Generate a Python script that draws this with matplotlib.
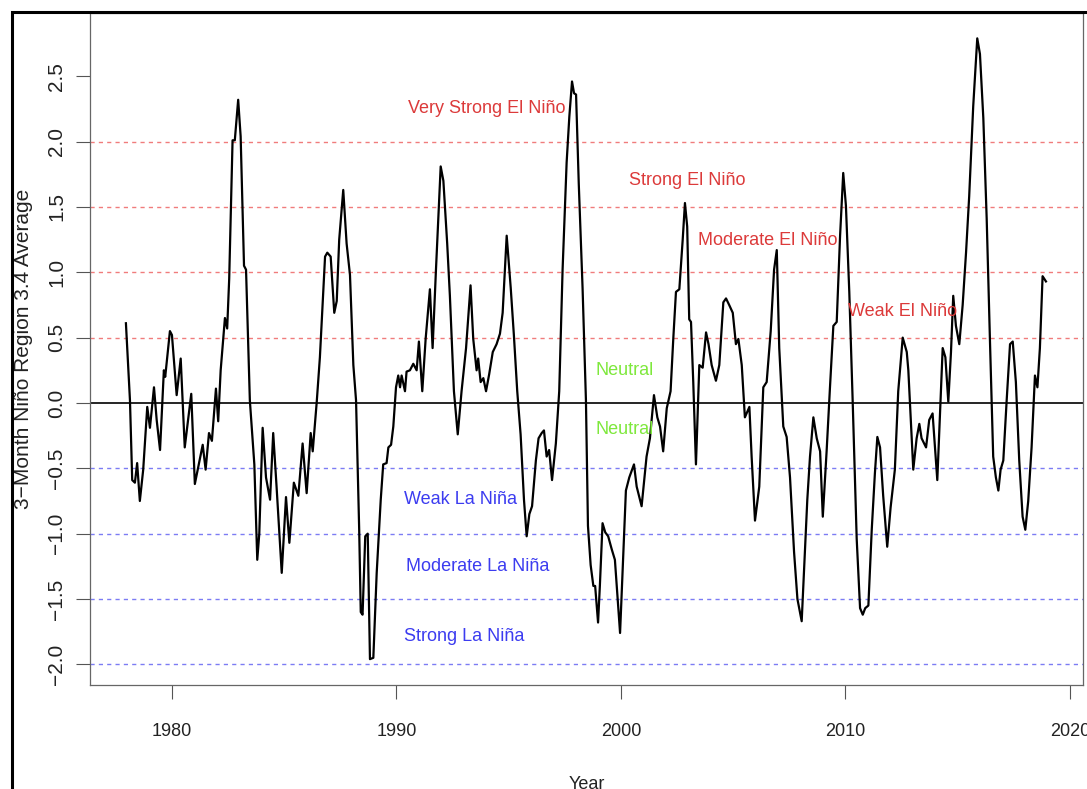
import matplotlib
matplotlib.use("Agg")
import matplotlib.pyplot as plt
from matplotlib.patches import Rectangle

# ---- data ----
years = [
    1977.95, 1978.13, 1978.23, 1978.35, 1978.45, 1978.57, 1978.72, 1978.90, 1979.02, 1979.20,
    1979.32, 1979.47, 1979.64, 1979.70, 1979.91, 1980.00, 1980.21, 1980.39, 1980.57, 1980.86,
    1981.02, 1981.25, 1981.37, 1981.50, 1981.65, 1981.78, 1981.96, 1982.06, 1982.17, 1982.36,
    1982.46, 1982.55, 1982.70, 1982.80, 1982.95, 1983.06, 1983.21, 1983.30, 1983.47, 1983.67,
    1983.80, 1983.89, 1984.04, 1984.19, 1984.37, 1984.51, 1984.66, 1984.89, 1985.08, 1985.23,
    1985.43, 1985.63, 1985.82, 1986.00, 1986.18, 1986.27, 1986.45, 1986.59, 1986.82, 1986.92,
    1987.07, 1987.23, 1987.34, 1987.45, 1987.63, 1987.78, 1987.93, 1988.08, 1988.20, 1988.34,
    1988.41, 1988.49, 1988.61, 1988.72, 1988.82, 1988.97, 1989.12, 1989.30, 1989.41, 1989.56,
    1989.64, 1989.76, 1989.86, 1989.98, 1990.08, 1990.16, 1990.23, 1990.38, 1990.45, 1990.60,
    1990.75, 1990.90, 1991.00, 1991.15, 1991.30, 1991.49, 1991.61, 1991.76, 1991.97, 1992.09,
    1992.26, 1992.38, 1992.56, 1992.73, 1992.90, 1993.10, 1993.30, 1993.42, 1993.57, 1993.64,
    1993.75, 1993.87, 1993.99, 1994.13, 1994.29, 1994.46, 1994.61, 1994.73, 1994.91, 1995.09,
    1995.23, 1995.38, 1995.53, 1995.68, 1995.80, 1995.92, 1996.04, 1996.21, 1996.33, 1996.47,
    1996.57, 1996.69, 1996.80, 1996.93, 1997.10, 1997.25, 1997.40, 1997.58, 1997.70, 1997.82,
    1997.91, 1998.00, 1998.12, 1998.29, 1998.44, 1998.53, 1998.65, 1998.77, 1998.85, 1998.98,
    1999.06, 1999.18, 1999.30, 1999.43, 1999.59, 1999.73, 1999.96, 2000.10, 2000.22, 2000.37,
    2000.58, 2000.70, 2000.92, 2001.14, 2001.29, 2001.47, 2001.62, 2001.74, 2001.88, 2002.04,
    2002.21, 2002.33, 2002.45, 2002.60, 2002.75, 2002.85, 2002.95, 2003.04, 2003.12, 2003.22,
    2003.34, 2003.49, 2003.64, 2003.79, 2003.90, 2004.04, 2004.23, 2004.38, 2004.56, 2004.68,
    2004.82, 2004.98, 2005.12, 2005.23, 2005.38, 2005.52, 2005.72, 2005.82, 2005.97, 2006.16,
    2006.34, 2006.49, 2006.67, 2006.82, 2006.94, 2007.05, 2007.23, 2007.38, 2007.53, 2007.71,
    2007.86, 2008.05, 2008.15, 2008.30, 2008.42, 2008.57, 2008.72, 2008.87, 2008.99, 2009.16,
    2009.31, 2009.46, 2009.61, 2009.76, 2009.90, 2010.02, 2010.17, 2010.32, 2010.50, 2010.65,
    2010.77, 2010.88, 2011.02, 2011.17, 2011.31, 2011.42, 2011.54, 2011.68, 2011.86, 2012.01,
    2012.20, 2012.35, 2012.55, 2012.73, 2012.80, 2013.02, 2013.17, 2013.29, 2013.39, 2013.59,
    2013.73, 2013.88, 2014.09, 2014.33, 2014.45, 2014.58, 2014.70, 2014.80, 2014.92, 2015.07,
    2015.22, 2015.37, 2015.51, 2015.69, 2015.87, 2015.99, 2016.14, 2016.29, 2016.44, 2016.58,
    2016.70, 2016.81, 2016.91, 2017.03, 2017.18, 2017.33, 2017.45, 2017.59, 2017.74, 2017.89,
    2018.01, 2018.14, 2018.29, 2018.44, 2018.55, 2018.66, 2018.78, 2018.93,
]
nino34 = [
    0.61, 0.02, -0.59, -0.61, -0.46, -0.75, -0.51, -0.03, -0.19, 0.12,
    -0.13, -0.36, 0.25, 0.20, 0.55, 0.52, 0.06, 0.34, -0.34, 0.07,
    -0.62, -0.42, -0.32, -0.51, -0.23, -0.29, 0.11, -0.14, 0.25, 0.65,
    0.57, 0.95, 2.01, 2.01, 2.32, 2.04, 1.05, 1.02, 0.02, -0.47,
    -1.20, -1.00, -0.19, -0.57, -0.74, -0.23, -0.64, -1.30, -0.72, -1.07,
    -0.61, -0.71, -0.31, -0.69, -0.23, -0.37, 0.01, 0.35, 1.12, 1.15,
    1.12, 0.69, 0.78, 1.25, 1.63, 1.22, 0.98, 0.29, 0.02, -0.97,
    -1.60, -1.62, -1.02, -1.00, -1.96, -1.95, -1.30, -0.74, -0.47, -0.46,
    -0.34, -0.32, -0.18, 0.12, 0.21, 0.12, 0.21, 0.09, 0.24, 0.25,
    0.30, 0.25, 0.47, 0.09, 0.49, 0.87, 0.42, 1.02, 1.81, 1.70,
    1.22, 0.82, 0.09, -0.24, 0.09, 0.42, 0.90, 0.49, 0.25, 0.34,
    0.16, 0.19, 0.09, 0.22, 0.39, 0.45, 0.53, 0.69, 1.28, 0.88,
    0.52, 0.09, -0.24, -0.74, -1.02, -0.85, -0.79, -0.44, -0.27, -0.23,
    -0.21, -0.41, -0.36, -0.59, -0.31, 0.09, 1.02, 1.84, 2.19, 2.46,
    2.37, 2.36, 1.68, 0.88, 0.02, -0.94, -1.24, -1.40, -1.40, -1.68,
    -1.40, -0.92, -0.99, -1.02, -1.12, -1.20, -1.76, -1.17, -0.67, -0.57,
    -0.47, -0.64, -0.79, -0.41, -0.27, 0.06, -0.11, -0.18, -0.37, -0.04,
    0.09, 0.49, 0.85, 0.87, 1.25, 1.53, 1.35, 0.64, 0.62, 0.16,
    -0.47, 0.29, 0.27, 0.54, 0.45, 0.29, 0.17, 0.29, 0.77, 0.80,
    0.75, 0.69, 0.45, 0.49, 0.29, -0.11, -0.03, -0.41, -0.90, -0.64,
    0.12, 0.16, 0.55, 1.02, 1.17, 0.42, -0.18, -0.26, -0.57, -1.14,
    -1.50, -1.67, -1.30, -0.74, -0.41, -0.11, -0.27, -0.37, -0.87, -0.37,
    0.12, 0.59, 0.62, 1.28, 1.76, 1.51, 0.85, 0.02, -1.04, -1.57,
    -1.62, -1.57, -1.55, -0.97, -0.54, -0.26, -0.34, -0.71, -1.10, -0.80,
    -0.51, 0.09, 0.50, 0.39, 0.25, -0.51, -0.27, -0.16, -0.27, -0.34,
    -0.13, -0.08, -0.59, 0.42, 0.35, 0.01, 0.39, 0.82, 0.59, 0.45,
    0.75, 1.15, 1.58, 2.27, 2.79, 2.67, 2.18, 1.41, 0.45, -0.41,
    -0.57, -0.67, -0.51, -0.44, 0.02, 0.45, 0.47, 0.16, -0.44, -0.87,
    -0.97, -0.75, -0.34, 0.21, 0.12, 0.42, 0.97, 0.93,
]

el_nino_levels = [0.5, 1.0, 1.5, 2.0]
la_nina_levels = [-0.5, -1.0, -1.5, -2.0]

label_texts = ["Very Strong El Niño", "Strong El Niño", "Moderate El Niño", "Weak El Niño",
               "Neutral", "Neutral", "Weak La Niña", "Moderate La Niña", "Strong La Niña"]
label_x = [1994.0, 2002.95, 2006.55, 2012.55, 2000.15, 2000.15, 1992.85, 1993.6, 1993.0]
label_y = [2.25, 1.70, 1.24, 0.70, 0.25, -0.20, -0.74, -1.25, -1.79]
label_colors = ["#dc3a3a"] * 4 + ["#7ee83c"] * 2 + ["#3c3cf0"] * 3

x_ticks = [1980, 1990, 2000, 2010, 2020]
y_ticks = [-2.0, -1.5, -1.0, -0.5, 0.0, 0.5, 1.0, 1.5, 2.0, 2.5]

plt.rcParams['font.family'] = ['Liberation Sans', 'DejaVu Sans']

W, H = 1087, 789
fig = plt.figure(figsize=(W / 100, H / 100), dpi=100)
ax = fig.add_axes([90 / W, 1 - 685 / H, (1083 - 90) / W, (685 - 13) / H])

for lv in el_nino_levels:
    ax.axhline(lv, color="#f07c7c", lw=1.0, ls=(0, (3, 3)), zorder=1)
for lv in la_nina_levels:
    ax.axhline(lv, color="#7c7cf4", lw=1.0, ls=(0, (3, 3)), zorder=1)
ax.axhline(0, color="black", lw=1.2, zorder=2)

ax.plot(years, nino34, color="black", lw=1.6, zorder=3)

for t, x, y, c in zip(label_texts, label_x, label_y, label_colors):
    ax.text(x, y, t, color=c, fontsize=13, ha="center", va="center", zorder=4)

ax.set_xlim(1976.35, 2020.58)
ax.set_ylim(-2.158, 2.984)
ax.set_xticks(x_ticks)
ax.set_xticklabels([str(v) for v in x_ticks])
ax.set_yticks(y_ticks)
ax.set_yticklabels([f"{v:.1f}".replace("-", "\u2212") for v in y_ticks], rotation=90, va="center")
ax.tick_params(axis="both", direction="out", length=10, width=0.8, color="#555555",
               labelcolor="#222222")
ax.tick_params(axis="x", pad=17, labelsize=13)
ax.tick_params(axis="y", pad=7, labelsize=15)
for s in ax.spines.values():
    s.set_color("#666666")
    s.set_linewidth(0.9)

ax.set_ylabel("3\u2212Month Niño Region 3.4 Average", fontsize=15, color="#222222", labelpad=10)
ax.set_xlabel("Year", fontsize=13, color="#222222", labelpad=26)

# outer frame (screenshot border, cut at right and bottom)
fig.add_artist(Rectangle((12 / W, -0.1), 1.2, 1 - 12 / H + 0.1, transform=fig.transFigure,
                         fill=False, ec="black", lw=2.2, clip_on=False))

fig.savefig("out.png", dpi=100)
